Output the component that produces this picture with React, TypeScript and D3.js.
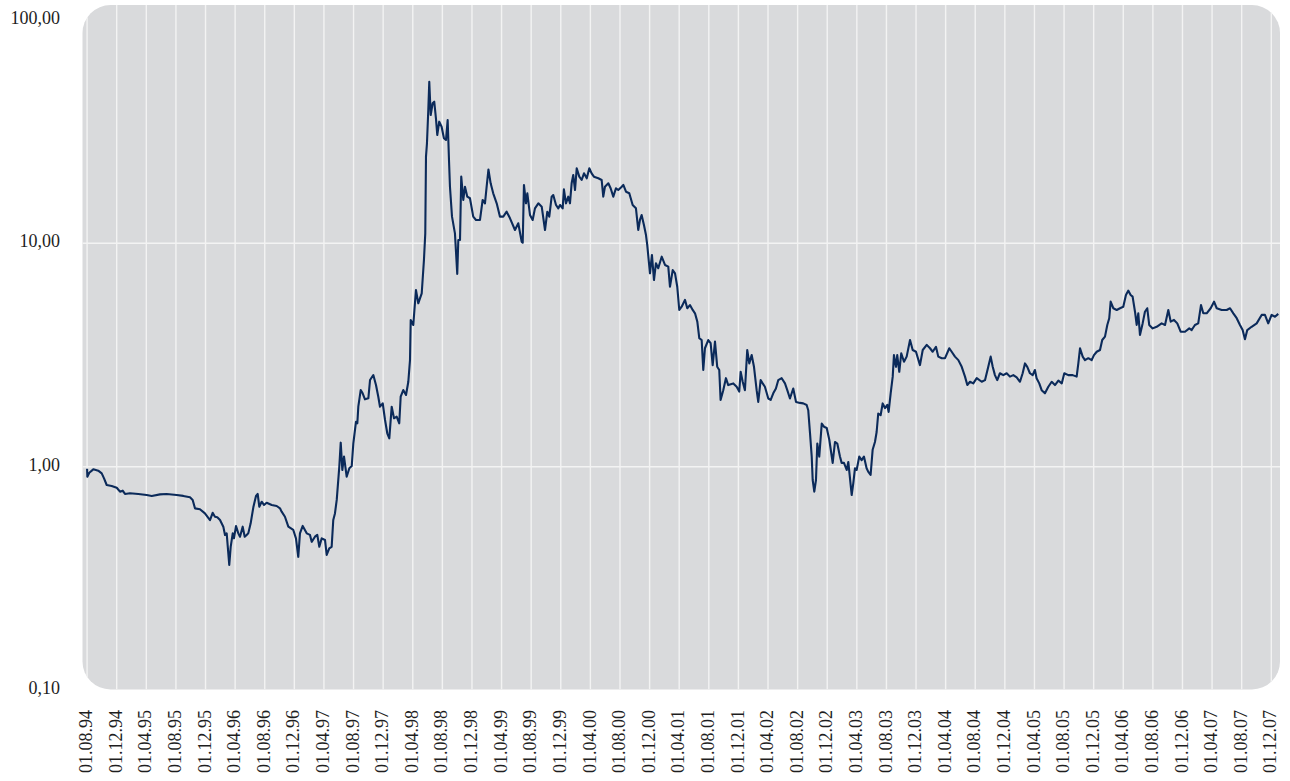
import React from "react";
import * as d3 from "d3";

// Y axis (log scale) ticks and labels
const yTickValues: number[] = [0.1, 1, 10, 100];
const yTickLabels: string[] = ["0,10", "1,00", "10,00", "100,00"];
const yGridValues: number[] = [1, 10];

// X axis tick labels (every 4 months)
const xTickLabels: string[] = [
  "01.08.94", "01.12.94", "01.04.95", "01.08.95", "01.12.95", "01.04.96", "01.08.96",
  "01.12.96", "01.04.97", "01.08.97", "01.12.97", "01.04.98", "01.08.98", "01.12.98",
  "01.04.99", "01.08.99", "01.12.99", "01.04.00", "01.08.00", "01.12.00", "01.04.01",
  "01.08.01", "01.12.01", "01.04.02", "01.08.02", "01.12.02", "01.04.03", "01.08.03",
  "01.12.03", "01.04.04", "01.08.04", "01.12.04", "01.04.05", "01.08.05", "01.12.05",
  "01.04.06", "01.08.06", "01.12.06", "01.04.07", "01.08.07", "01.12.07",
];

// Series: [time in decimal years, index value]
const series: [number, number][] = [
  [1994.583, 0.98], [1994.586, 0.902], [1994.608, 0.94], [1994.653, 0.973], [1994.709, 0.96],
  [1994.748, 0.934], [1994.774, 0.887], [1994.804, 0.828], [1994.86, 0.82], [1994.917, 0.805],
  [1994.954, 0.773], [1994.984, 0.781], [1995.01, 0.755], [1995.066, 0.76], [1995.16, 0.755],
  [1995.254, 0.747], [1995.311, 0.74], [1995.404, 0.752], [1995.479, 0.755], [1995.592, 0.747],
  [1995.666, 0.74], [1995.742, 0.73], [1995.772, 0.71], [1995.798, 0.651], [1995.854, 0.645],
  [1995.91, 0.618], [1995.967, 0.577], [1995.997, 0.622], [1996.023, 0.597], [1996.049, 0.594],
  [1996.08, 0.577], [1996.117, 0.539], [1996.136, 0.495], [1996.155, 0.503], [1996.184, 0.363],
  [1996.2, 0.438], [1996.223, 0.503], [1996.237, 0.478], [1996.26, 0.543], [1996.286, 0.503],
  [1996.305, 0.486], [1996.335, 0.539], [1996.358, 0.486], [1996.38, 0.495], [1996.398, 0.503],
  [1996.425, 0.558], [1996.455, 0.658], [1996.485, 0.74], [1996.504, 0.755], [1996.522, 0.662],
  [1996.549, 0.697], [1996.575, 0.674], [1996.605, 0.69], [1996.662, 0.674], [1996.718, 0.667],
  [1996.755, 0.651], [1996.774, 0.629], [1996.811, 0.597], [1996.849, 0.539], [1996.905, 0.521],
  [1996.935, 0.478], [1996.961, 0.395], [1996.98, 0.503], [1997.011, 0.543], [1997.056, 0.503],
  [1997.093, 0.495], [1997.112, 0.461], [1997.149, 0.486], [1997.175, 0.495], [1997.198, 0.438],
  [1997.225, 0.478], [1997.262, 0.47], [1997.281, 0.403], [1997.31, 0.431], [1997.337, 0.438],
  [1997.355, 0.577], [1997.374, 0.618], [1997.394, 0.71], [1997.423, 1.0], [1997.439, 1.281],
  [1997.457, 0.966], [1997.476, 1.109], [1997.506, 0.902], [1997.536, 0.984], [1997.563, 1.007],
  [1997.581, 1.273], [1997.611, 1.59], [1997.626, 1.564], [1997.637, 1.856], [1997.664, 2.204],
  [1997.686, 2.131], [1997.712, 2.003], [1997.75, 2.024], [1997.769, 2.444], [1997.806, 2.573],
  [1997.836, 2.321], [1997.862, 2.057], [1997.881, 1.856], [1997.912, 1.922], [1997.938, 1.618],
  [1997.963, 1.411], [1997.986, 1.34], [1998.013, 1.856], [1998.039, 1.647], [1998.069, 1.674],
  [1998.098, 1.564], [1998.114, 2.057], [1998.143, 2.204], [1998.174, 2.094], [1998.2, 2.401],
  [1998.219, 3.003], [1998.227, 4.536], [1998.256, 4.308], [1998.286, 6.18], [1998.312, 5.388],
  [1998.351, 5.974], [1998.376, 8.42], [1998.391, 11.08], [1998.399, 24.42], [1998.41, 28.03],
  [1998.425, 39.52], [1998.436, 52.9], [1998.452, 37.5], [1998.474, 42.34], [1998.492, 43.04],
  [1998.511, 36.27], [1998.526, 30.53], [1998.548, 35.03], [1998.575, 33.25], [1998.601, 29.51],
  [1998.624, 29.0], [1998.643, 35.64], [1998.658, 23.6], [1998.669, 17.92], [1998.692, 13.16],
  [1998.725, 11.08], [1998.751, 7.3], [1998.763, 10.35], [1998.782, 10.35], [1998.796, 19.91],
  [1998.819, 15.63], [1998.838, 17.92], [1998.864, 16.17], [1998.894, 15.91], [1998.931, 13.16],
  [1998.962, 12.72], [1999.007, 12.72], [1999.037, 15.63], [1999.063, 15.1], [1999.082, 17.92],
  [1999.102, 21.39], [1999.127, 18.56], [1999.156, 16.74], [1999.195, 15.1], [1999.232, 13.16],
  [1999.269, 13.16], [1999.307, 13.85], [1999.345, 12.94], [1999.401, 11.47], [1999.438, 12.29],
  [1999.476, 10.17], [1999.488, 10.06], [1999.502, 18.24], [1999.525, 15.1], [1999.54, 16.74],
  [1999.57, 13.39], [1999.6, 12.72], [1999.626, 14.33], [1999.664, 15.1], [1999.702, 14.58],
  [1999.739, 11.47], [1999.765, 13.85], [1999.787, 13.16], [1999.814, 16.17], [1999.832, 16.45],
  [1999.863, 14.84], [1999.889, 14.33], [1999.908, 14.84], [1999.938, 14.34], [1999.952, 17.45],
  [1999.975, 15.1], [2000.001, 16.17], [2000.02, 15.1], [2000.039, 18.56], [2000.057, 20.22],
  [2000.077, 17.32], [2000.096, 21.66], [2000.125, 19.87], [2000.152, 19.2], [2000.178, 20.57],
  [2000.209, 19.54], [2000.238, 21.66], [2000.264, 20.57], [2000.29, 19.87], [2000.339, 19.54],
  [2000.377, 19.2], [2000.395, 16.17], [2000.414, 17.92], [2000.452, 18.56], [2000.478, 17.63],
  [2000.508, 16.17], [2000.538, 17.63], [2000.564, 17.32], [2000.603, 17.92], [2000.621, 18.24],
  [2000.651, 17.02], [2000.688, 16.74], [2000.726, 14.84], [2000.763, 14.34], [2000.789, 11.47],
  [2000.808, 12.72], [2000.827, 13.39], [2000.853, 12.08], [2000.876, 10.89], [2000.89, 9.83],
  [2000.921, 7.34], [2000.943, 8.87], [2000.966, 6.85], [2000.988, 8.14], [2001.014, 7.73],
  [2001.053, 8.71], [2001.09, 8.0], [2001.127, 7.86], [2001.146, 6.39], [2001.177, 7.59],
  [2001.203, 7.34], [2001.228, 6.39], [2001.251, 5.03], [2001.278, 5.2], [2001.315, 5.58],
  [2001.341, 5.12], [2001.371, 5.29], [2001.402, 5.03], [2001.428, 4.86], [2001.454, 4.46],
  [2001.476, 3.76], [2001.503, 3.69], [2001.521, 2.71], [2001.54, 3.39], [2001.577, 3.69],
  [2001.604, 3.57], [2001.627, 2.85], [2001.653, 3.63], [2001.678, 2.8], [2001.701, 2.71],
  [2001.716, 1.99], [2001.746, 2.2], [2001.776, 2.49], [2001.802, 2.32], [2001.859, 2.36],
  [2001.897, 2.28], [2001.926, 2.17], [2001.942, 2.66], [2001.965, 2.4], [2001.99, 2.2],
  [2002.016, 3.33], [2002.039, 2.9], [2002.066, 3.16], [2002.092, 2.8], [2002.122, 2.2],
  [2002.14, 1.95], [2002.167, 2.44], [2002.19, 2.36], [2002.215, 2.28], [2002.253, 2.02],
  [2002.28, 1.99], [2002.309, 2.13], [2002.339, 2.24], [2002.365, 2.44], [2002.404, 2.49],
  [2002.441, 2.36], [2002.467, 2.2], [2002.497, 2.02], [2002.534, 2.24], [2002.565, 1.95],
  [2002.61, 1.93], [2002.647, 1.92], [2002.685, 1.89], [2002.703, 1.79], [2002.723, 1.41],
  [2002.742, 1.11], [2002.753, 0.872], [2002.771, 0.773], [2002.79, 0.872], [2002.805, 1.27],
  [2002.827, 1.11], [2002.855, 1.56], [2002.88, 1.51], [2002.911, 1.49], [2002.94, 1.32],
  [2002.978, 1.04], [2003.004, 1.29], [2003.03, 1.27], [2003.06, 1.11], [2003.079, 1.04],
  [2003.105, 1.04], [2003.136, 0.967], [2003.154, 1.05], [2003.173, 0.887], [2003.192, 0.747],
  [2003.21, 0.843], [2003.229, 0.984], [2003.248, 0.967], [2003.277, 1.11], [2003.304, 1.07],
  [2003.33, 1.11], [2003.36, 0.984], [2003.378, 0.95], [2003.405, 0.918], [2003.428, 1.19],
  [2003.454, 1.29], [2003.473, 1.43], [2003.491, 1.73], [2003.518, 1.7], [2003.541, 1.92],
  [2003.567, 1.83], [2003.593, 1.89], [2003.608, 1.76], [2003.631, 2.13], [2003.654, 2.53],
  [2003.668, 3.16], [2003.691, 2.8], [2003.705, 3.16], [2003.728, 2.66], [2003.75, 3.22],
  [2003.781, 2.95], [2003.811, 3.11], [2003.849, 3.69], [2003.879, 3.33], [2003.916, 3.27],
  [2003.961, 2.85], [2003.992, 3.33], [2004.037, 3.51], [2004.074, 3.39], [2004.104, 3.27],
  [2004.141, 3.44], [2004.167, 3.11], [2004.206, 3.06], [2004.243, 3.06], [2004.291, 3.39],
  [2004.318, 3.27], [2004.355, 3.11], [2004.393, 3.0], [2004.431, 2.8], [2004.468, 2.53],
  [2004.494, 2.32], [2004.524, 2.4], [2004.561, 2.36], [2004.6, 2.49], [2004.656, 2.4],
  [2004.693, 2.44], [2004.73, 2.8], [2004.757, 3.11], [2004.78, 2.8], [2004.805, 2.57],
  [2004.831, 2.44], [2004.861, 2.62], [2004.899, 2.57], [2004.937, 2.62], [2004.974, 2.53],
  [2005.012, 2.57], [2005.05, 2.51], [2005.087, 2.4], [2005.117, 2.62], [2005.143, 2.9],
  [2005.169, 2.8], [2005.199, 2.62], [2005.23, 2.57], [2005.255, 2.71], [2005.274, 2.49],
  [2005.304, 2.36], [2005.331, 2.2], [2005.368, 2.13], [2005.406, 2.28], [2005.444, 2.4],
  [2005.481, 2.32], [2005.519, 2.43], [2005.557, 2.36], [2005.586, 2.62], [2005.631, 2.57],
  [2005.68, 2.57], [2005.725, 2.53], [2005.744, 2.9], [2005.763, 3.39], [2005.793, 3.11],
  [2005.819, 3.0], [2005.856, 3.06], [2005.894, 3.0], [2005.92, 3.16], [2005.951, 3.27],
  [2005.988, 3.33], [2006.013, 3.69], [2006.044, 3.82], [2006.07, 4.31], [2006.092, 4.62],
  [2006.108, 5.48], [2006.138, 5.12], [2006.176, 5.03], [2006.213, 5.12], [2006.25, 5.2],
  [2006.28, 5.87], [2006.306, 6.14], [2006.333, 5.87], [2006.355, 5.77], [2006.382, 4.94],
  [2006.401, 4.31], [2006.419, 4.86], [2006.438, 3.89], [2006.468, 4.38], [2006.494, 4.94],
  [2006.52, 5.12], [2006.542, 4.31], [2006.581, 4.16], [2006.626, 4.23], [2006.682, 4.38],
  [2006.72, 4.31], [2006.757, 5.03], [2006.784, 4.46], [2006.821, 4.54], [2006.858, 4.38],
  [2006.896, 4.02], [2006.945, 4.02], [2006.993, 4.16], [2007.02, 4.09], [2007.057, 4.31],
  [2007.094, 4.38], [2007.125, 5.29], [2007.151, 4.86], [2007.189, 4.86], [2007.234, 5.12],
  [2007.272, 5.48], [2007.302, 5.12], [2007.358, 5.03], [2007.414, 5.03], [2007.452, 5.12],
  [2007.489, 4.86], [2007.527, 4.62], [2007.564, 4.31], [2007.594, 4.09], [2007.62, 3.72],
  [2007.646, 4.09], [2007.695, 4.23], [2007.752, 4.38], [2007.808, 4.78], [2007.845, 4.78],
  [2007.882, 4.38], [2007.92, 4.78], [2007.958, 4.69], [2007.995, 4.83],
];

const W = 1290;
const H = 781;
const plot = { left: 82.5, right: 1280, top: 5, bottom: 689.5, radius: 28 };

function labelToYear(s: string): number {
  const [, mm, yy] = s.split(".").map(Number);
  const year = yy < 50 ? 2000 + yy : 1900 + yy;
  return year + (mm - 1) / 12;
}

const xTicks = xTickLabels.map((l) => ({ label: l, t: labelToYear(l) }));

export default function App() {
  const x = d3
    .scaleLinear()
    .domain([xTicks[0].t, xTicks[xTicks.length - 1].t])
    .range([87.1, 1271.3]);
  const y = d3.scaleLog().domain([0.1, 100]).range([690.1, 19.9]);

  const line = d3
    .line<[number, number]>()
    .x((d) => x(d[0]))
    .y((d) => y(d[1]))
    .curve(d3.curveLinear);

  const font = "'Liberation Serif', 'Times New Roman', serif";
  const textColor = "#1e1e1e";
  const gridColor = "#f3f3f3";

  return (
    <svg
      width={W}
      height={H}
      style={{ position: "absolute", left: 0, top: 0, display: "block", background: "#ffffff" }}
    >
      <defs>
        <clipPath id="plotClip">
          <rect
            x={plot.left}
            y={plot.top}
            width={plot.right - plot.left}
            height={plot.bottom - plot.top}
            rx={plot.radius}
            ry={plot.radius}
          />
        </clipPath>
      </defs>
      <rect
        x={plot.left}
        y={plot.top}
        width={plot.right - plot.left}
        height={plot.bottom - plot.top}
        rx={plot.radius}
        ry={plot.radius}
        fill="#d9dadc"
      />
      <g clipPath="url(#plotClip)">
        {xTicks.map((tk) => (
          <line
            key={"gx" + tk.label}
            x1={x(tk.t)}
            x2={x(tk.t)}
            y1={plot.top}
            y2={plot.bottom}
            stroke={gridColor}
            strokeWidth={1.4}
          />
        ))}
        {yGridValues.map((v) => (
          <line
            key={"gy" + v}
            x1={plot.left}
            x2={plot.right}
            y1={y(v)}
            y2={y(v)}
            stroke={gridColor}
            strokeWidth={1.4}
          />
        ))}
        <path d={line(series) || ""} fill="none" stroke="#0b2a5a" strokeWidth={2.1} strokeLinejoin="round" />
      </g>
      {yTickValues.map((v, i) => (
        <text
          key={"yl" + v}
          x={60}
          y={y(v)}
          textAnchor="end"
          dominantBaseline="middle"
          fontFamily={font}
          fontSize={18}
          fill={textColor}
        >
          {yTickLabels[i]}
        </text>
      ))}
      {xTicks.map((tk) => (
        <text
          key={"xl" + tk.label}
          transform={`translate(${x(tk.t) + 1},${710}) rotate(-90)`}
          textAnchor="end"
          dominantBaseline="middle"
          fontFamily={font}
          fontSize={18}
          fill={textColor}
        >
          {tk.label}
        </text>
      ))}
    </svg>
  );
}
